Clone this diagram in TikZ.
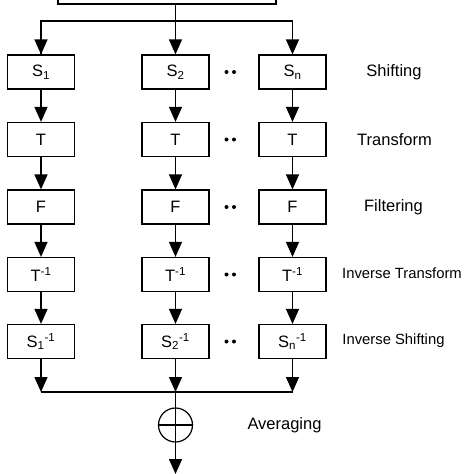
\documentclass[tikz,border=0pt]{standalone}
\usepackage{fontspec}
\setmainfont{Liberation Sans}
\usetikzlibrary{arrows.meta}
\tikzset{
    blk/.style={draw, line width=1.2pt, minimum width=67pt, minimum height=34pt, inner sep=0pt, font=\fontsize{16.5}{19}\selectfont},
    wire/.style={line width=1.3pt},
    flow/.style={wire, -{Triangle[length=15pt,width=13pt]}},
    lbl/.style={font=\fontsize{16.5}{19}\selectfont},
    lblsmall/.style={font=\fontsize{14.8}{17}\selectfont}
}
\begin{document}
\begin{tikzpicture}[x=1pt, y=-1pt]
    \useasboundingbox (0,0) rectangle (474,474);

    % Input block (cut by the top edge)
    \node[draw, line width=1.2pt, minimum width=218pt, minimum height=40pt] (src) at (167,-16) {};
    \coordinate (split) at (175.5,21);
    \draw[wire] (src.south -| split) -- (split);

    % Branches
    \foreach \c/\x/\k in {1/41/1, 2/175.5/2, 3/292.5/n} {
        \node[blk] (s\c) at (\x,72) {S\textsubscript{\k}};
        \node[blk] (t\c) at (\x,139.5) {T};
        \node[blk] (f\c) at (\x,207) {F};
        \node[blk] (ti\c) at (\x,274.5) {T\textsuperscript{-1}};
        \node[blk] (si\c) at (\x,341.5) {S\textsubscript{\k}\textsuperscript{-1}};
        \coordinate (j\c) at (\x,392);
        \draw[wire] (split) -| (s\c.north);
        \draw[flow] (split -| s\c.north) -- (s\c.north);
        \draw[flow] (s\c) -- (t\c);
        \draw[flow] (t\c) -- (f\c);
        \draw[flow] (f\c) -- (ti\c);
        \draw[flow] (ti\c) -- (si\c);
        \draw[flow] (si\c) -- (j\c);
    }

    % Dots between columns
    \foreach \y in {72,139.5,207,274.5,341.5} {
        \fill (226.5,\y) circle (2pt);
        \fill (234,\y) circle (2pt);
    }

    % Averaging
    \draw[wire] (j1) -- (j3);
    \node[draw, circle, line width=1.2pt, minimum size=34pt, inner sep=0pt] (avg) at (175.5,425) {};
    \draw[wire] (avg.west) -- (avg.east);
    \draw[wire] (j2) -- (avg.south);
    \coordinate (out) at (175.5,474);
    \draw[flow] (avg.south) -- (out);

    % Stage labels
    \node[lbl] (lshift) at (394,72) {Shifting};
    \node[lbl] (ltrans) at (394.5,140) {Transform};
    \node[lbl] (lfilt) at (393.5,207) {Filtering};
    \node[lblsmall] (linvt) at (402,273) {Inverse Transform};
    \node[lblsmall] (linvs) at (393.5,341) {Inverse Shifting};
    \node[lbl] (lavg) at (284.5,425) {Averaging};
\end{tikzpicture}
\end{document}
